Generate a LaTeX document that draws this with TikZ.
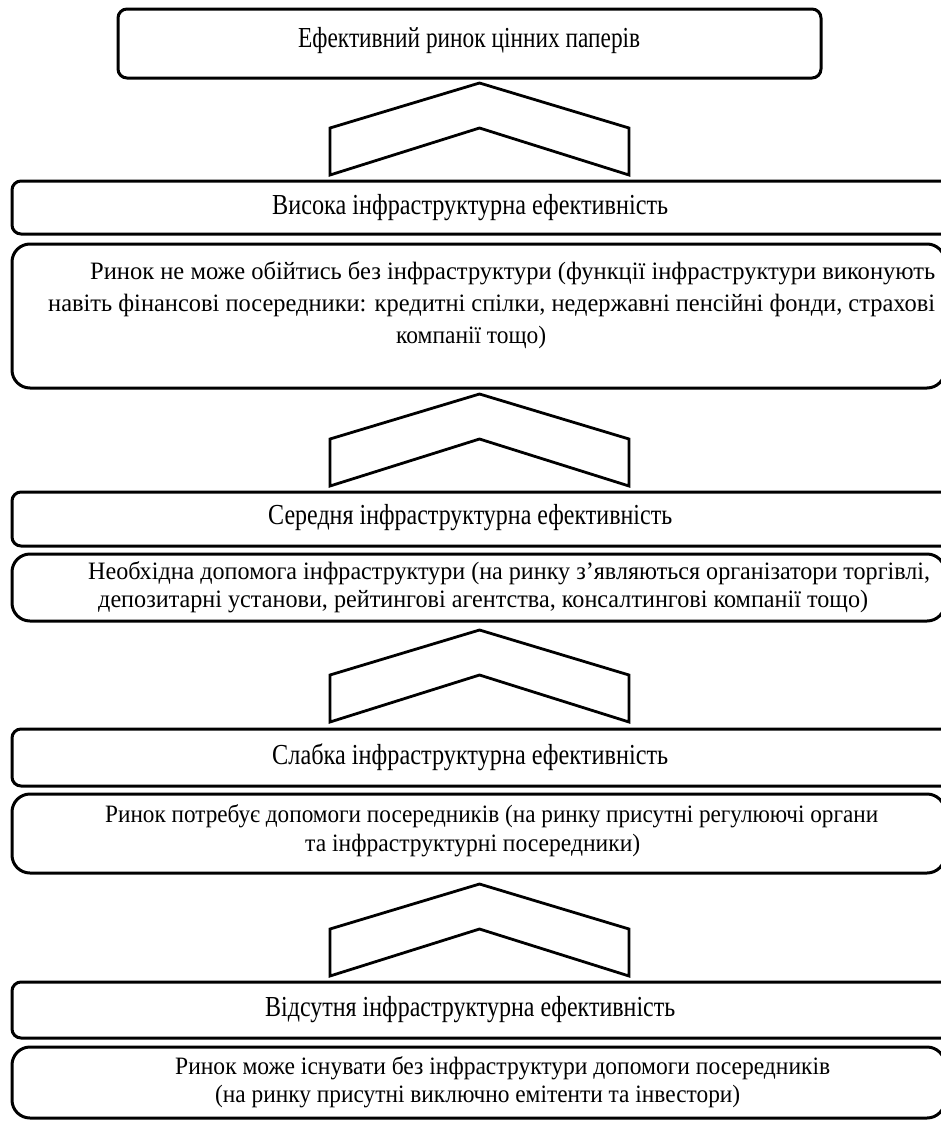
\documentclass[tikz,border=0pt]{standalone}
\usepackage{fontspec}
\setmainfont{Liberation Serif}
\usepackage{graphicx}
\newcommand{\fitw}[2]{\resizebox{#1}{\height}{#2}}
\tikzset{
  hbox/.style={draw, line width=3pt, rounded corners=9pt},
  dbox/.style={draw, line width=3pt, rounded corners=18pt},
  chev/.style={draw, line width=2.8pt, fill=white, line join=miter},
  head/.style={inner sep=0pt, anchor=west, font=\fontsize{29}{34}\selectfont},
  body/.style={inner sep=0pt, anchor=west, font=\fontsize{25}{30}\selectfont},
  chevron/.pic={\draw[chev] (-149.5,45) -- (0,0) -- (149.5,45) -- (149.5,92) -- (0,45) -- (-149.5,92) -- cycle;}
}
\begin{document}
\begin{tikzpicture}[x=1pt,y=-1pt]
\useasboundingbox (0,0) rectangle (941,1122);
\clip (0,0) rectangle (941,1122);
\fill[white] (0,0) rectangle (941,1122);
% top box
\draw[hbox] (118,9) rectangle (821,78);
\node[head] (t0) at (298,41) {\fitw{342pt}{Ефективний ринок цінних паперів}};
\pic (c1) at (479.5,83) {chevron};
% level 1
\draw[hbox] (12,181) rectangle (960,234);
\node[head] (t1) at (272,208) {\fitw{396pt}{Висока інфраструктурна ефективність}};
\draw[dbox] (12,244) rectangle (945,388);
\node[body] (d1a) at (90,273) {\fitw{845pt}{Ринок не може обійтись без інфраструктури (функції інфраструктури виконують}};
\node[body] (d1b) at (48,305) {\fitw{887pt}{навіть фінансові посередники: кредитні спілки, недержавні пенсійні фонди, страхові}};
\node[body] (d1c) at (396,337) {\fitw{150pt}{компанії тощо)}};
\pic (c2) at (479.5,394) {chevron};
% level 2
\draw[hbox] (12,492) rectangle (960,546);
\node[head] (t2) at (268,518) {\fitw{404pt}{Середня інфраструктурна ефективність}};
\draw[dbox] (12,554) rectangle (945,621);
\node[body] (d2a) at (88,573) {\fitw{842pt}{Необхідна допомога інфраструктури (на ринку з’являються організатори торгівлі,}};
\node[body] (d2b) at (98,602) {\fitw{770pt}{депозитарні установи, рейтингові агентства, консалтингові компанії тощо)}};
\pic (c3) at (479.5,630) {chevron};
% level 3
\draw[hbox] (12,729) rectangle (960,786);
\node[head] (t3) at (272,757) {\fitw{396pt}{Слабка інфраструктурна ефективність}};
\draw[dbox] (12,794) rectangle (945,873);
\node[body] (d3a) at (105,816) {\fitw{773pt}{Ринок потребує допомоги посередників (на ринку присутні регулюючі органи}};
\node[body] (d3b) at (305,846) {\fitw{335pt}{та інфраструктурні посередники)}};
\pic (c4) at (479.5,884) {chevron};
% level 4
\draw[hbox] (12,982) rectangle (960,1038);
\node[head] (t4) at (265,1010) {\fitw{410pt}{Відсутня інфраструктурна ефективність}};
\draw[dbox] (12,1047) rectangle (945,1118);
\node[body] (d4a) at (175,1068) {\fitw{655pt}{Ринок може існувати без інфраструктури допомоги посередників}};
\node[body] (d4b) at (215,1097) {\fitw{525pt}{(на ринку присутні виключно емітенти та інвестори)}};
\end{tikzpicture}
\end{document}
